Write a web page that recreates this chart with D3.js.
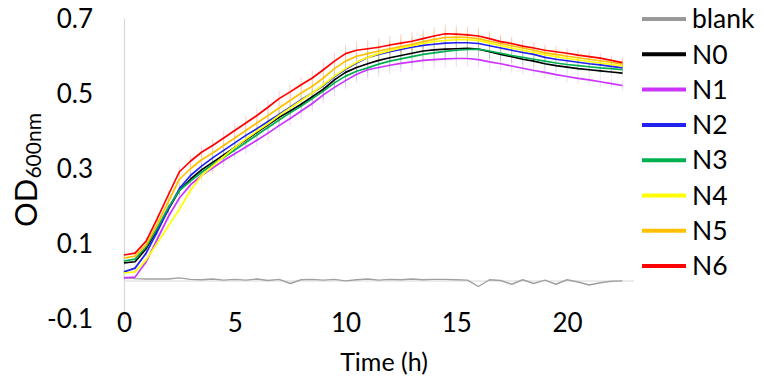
<!DOCTYPE html>
<html><head><meta charset="utf-8">
<script src="https://cdn.jsdelivr.net/npm/d3@7"></script>
<style>
body{margin:0;background:#fff}
svg{display:block}
text{font-family:Lato,"Open Sans",sans-serif;fill:#000}
</style>
</head><body>
<svg id="chart" width="765" height="386"></svg>
<script>
// ---- data ----
const times = [0,0.5,1,1.5,2,2.5,3,3.5,4,4.5,5,5.5,6,6.5,7,7.5,8,8.5,9,9.5,10,10.5,11,11.5,12,12.5,13,13.5,14,14.5,15,15.5,16,16.5,17,17.5,18,18.5,19,19.5,20,20.5,21,21.5,22,22.5];
const seriesNames = ["blank","N0","N1","N2","N3","N4","N5","N6"];
const seriesColors = ["#a0a0a0","#000000","#cc33ff","#2222ee","#00b050","#ffff00","#ffc000","#ff0000"];
const blank = [.008,.005,.004,.004,.004,.007,.003,.002,.004,.001,.003,.001,.004,.000,.003,-.008,.002,.003,.001,.003,-.001,.002,.004,.001,.003,.002,.004,.002,.003,.003,.002,.001,-.016,.002,.000,-.010,.002,-.008,.001,-.010,.002,-.004,-.012,-.006,-.002,-.001];
const N0 = [.047,.050,.085,.135,.190,.240,.270,.295,.315,.335,.355,.375,.395,.415,.435,.452,.470,.490,.510,.535,.555,.568,.578,.587,.594,.600,.606,.612,.615,.617,.618,.619,.617,.610,.603,.597,.590,.585,.578,.573,.569,.565,.562,.559,.556,.553];
const N1 = [.007,.009,.050,.110,.170,.220,.255,.280,.300,.320,.338,.356,.374,.393,.413,.432,.452,.472,.495,.515,.533,.550,.562,.568,.574,.579,.583,.587,.589,.591,.592,.592,.589,.583,.578,.572,.566,.560,.555,.549,.544,.539,.535,.530,.525,.520];
const N2 = [.023,.033,.073,.130,.190,.245,.280,.305,.327,.347,.367,.387,.405,.424,.443,.462,.482,.500,.520,.543,.563,.580,.595,.603,.610,.616,.622,.627,.630,.633,.634,.634,.632,.626,.620,.614,.608,.603,.595,.590,.586,.582,.578,.575,.571,.567];
const N3 = [.052,.057,.090,.140,.195,.240,.265,.288,.310,.328,.348,.368,.388,.408,.428,.447,.465,.485,.505,.527,.545,.558,.567,.577,.585,.591,.597,.603,.607,.611,.614,.616,.617,.612,.606,.600,.595,.590,.585,.580,.576,.573,.570,.567,.565,.562];
const N4 = [.020,.023,.055,.100,.145,.190,.240,.280,.305,.330,.355,.377,.398,.418,.440,.460,.480,.500,.522,.545,.565,.582,.595,.605,.613,.620,.626,.632,.637,.640,.642,.642,.640,.633,.626,.620,.614,.608,.602,.597,.592,.588,.584,.580,.576,.572];
const N5 = [.060,.065,.095,.150,.210,.270,.298,.322,.340,.360,.380,.400,.420,.440,.460,.480,.500,.518,.540,.565,.585,.598,.605,.612,.618,.624,.630,.637,.643,.648,.649,.648,.645,.638,.632,.626,.620,.614,.607,.603,.598,.594,.590,.586,.582,.577];
const N6 = [.068,.073,.105,.165,.228,.290,.318,.342,.360,.380,.400,.420,.440,.462,.485,.503,.522,.540,.562,.585,.605,.614,.618,.622,.628,.633,.638,.645,.652,.658,.657,.655,.652,.645,.637,.632,.625,.620,.614,.610,.606,.601,.597,.593,.587,.581];
// shared standard deviation per time point (error bars)
const sd = [.006,.006,.008,.010,.012,.014,.015,.016,.017,.018,.018,.019,.019,.020,.020,.020,.021,.021,.022,.022,.022,.023,.023,.024,.024,.024,.024,.024,.024,.024,.023,.022,.021,.020,.019,.018,.017,.016,.016,.015,.015,.014,.014,.014,.013,.013];
const xTicks = [0,5,10,15,20];
const yTicks = [-0.1,0.1,0.3,0.5,0.7];
const xTitle = "Time (h)";
const yTitleMain = "OD";
const yTitleSub = "600nm";

const values = [blank,N0,N1,N2,N3,N4,N5,N6];

// ---- drawing ----
const svg = d3.select("#chart");
const x = d3.scaleLinear().domain([0,23]).range([124,633.5]);
const y = d3.scaleLinear().domain([-0.1,0.7]).range([318,18]);

// y axis
const gy = svg.append("g").attr("transform",`translate(${x(0)},0)`)
  .call(d3.axisLeft(y).tickValues(yTicks).tickSize(0).tickSizeOuter(0).tickPadding(31).tickFormat(d=>d.toFixed(1)));
gy.select(".domain").attr("stroke","#d9d9d9").attr("stroke-width",1.2);
gy.selectAll("text").attr("font-size",26).attr("font-family","Lato").attr("dy","0.35em");

// x axis (crosses at y=0)
const gx = svg.append("g").attr("transform",`translate(0,${y(0)})`)
  .call(d3.axisBottom(x).tickValues(xTicks).tickSize(0).tickSizeOuter(0).tickFormat(d=>String(d)));
gx.select(".domain").attr("stroke","#d9d9d9").attr("stroke-width",1.2);
gx.selectAll("text").attr("font-size",26).attr("font-family","Lato").attr("y",42).attr("dy","0.35em");

// error bars
values.forEach((vals,i)=>{
  if(i===0) return;
  svg.append("g").selectAll("line").data(times).join("line")
    .attr("x1",(t)=>x(t)).attr("x2",(t)=>x(t))
    .attr("y1",(t,j)=>y(vals[j]+sd[j])).attr("y2",(t,j)=>y(vals[j]-sd[j]))
    .attr("stroke",i===1?"#999":seriesColors[i]).attr("stroke-opacity",0.2).attr("stroke-width",1);
});

// lines
const line = d3.line().x((d)=>x(d[0])).y((d)=>y(d[1]));
values.forEach((vals,i)=>{
  svg.append("path").datum(times.map((t,j)=>[t,vals[j]]))
    .attr("d",line).attr("fill","none")
    .attr("stroke",seriesColors[i]).attr("stroke-width",i===0?1.4:1.7)
    .attr("stroke-linejoin","round");
});

// legend
const lg = svg.append("g");
seriesNames.forEach((n,i)=>{
  const yy = 19 + i*35.3;
  lg.append("line").attr("x1",642).attr("x2",686).attr("y1",yy).attr("y2",yy)
    .attr("stroke",i===0?"#999":seriesColors[i]).attr("stroke-width",4);
  lg.append("text").attr("x",692).attr("y",yy).attr("dy","0.35em")
    .attr("font-size",26.5).text(n);
});

// axis titles
svg.append("text").attr("x",384).attr("y",362).attr("dy","0.35em")
  .attr("text-anchor","middle").attr("font-size",25).text(xTitle);
const yt = svg.append("text").attr("transform","translate(37,170) rotate(-90)")
  .attr("text-anchor","middle");
yt.append("tspan").attr("font-size",31).text(yTitleMain);
yt.append("tspan").attr("font-size",21).attr("dy",4).text(yTitleSub);
</script>
</body></html>
